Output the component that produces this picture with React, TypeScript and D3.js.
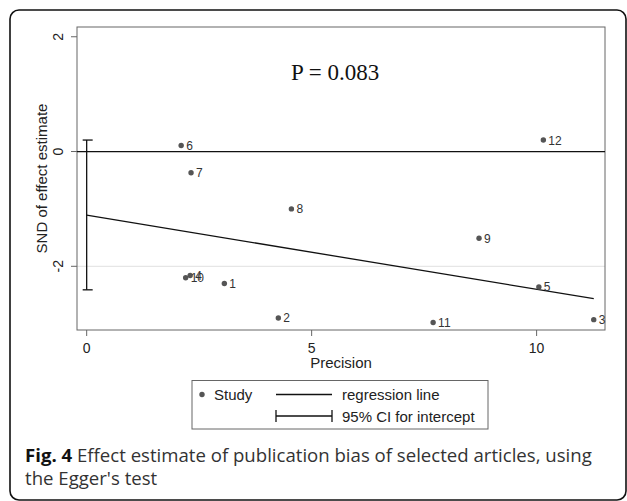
import React from 'react';
import * as d3 from 'd3';

// studies: precision (x) and standard normal deviate (y)
const studyIds = ['1', '2', '3', '4', '5', '6', '7', '8', '9', '10', '11', '12'];
const precision = [3.06, 4.26, 11.27, 2.3, 10.05, 2.1, 2.32, 4.55, 8.72, 2.2, 7.7, 10.15];
const snd = [-2.3, -2.9, -2.93, -2.16, -2.36, 0.105, -0.37, -1.0, -1.51, -2.2, -2.98, 0.2];

const intercept = -1.11;
const slope = -0.129;
const ciLow = -2.41;
const ciHigh = 0.2;

const xTicks = [0, 5, 10];
const yTicks = [-2, 0, 2];
const gridTicks = [-2];

const pText = 'P = 0.083';
const legendItems = ['Study', 'regression line', '95% CI for intercept'];
const captionBold = 'Fig. 4';
const captionLine1 = ' Effect estimate of publication bias of selected articles, using';
const captionLine2 = "the Egger's test";

const W = 627;
const H = 501;
const plot = { left: 77, right: 605, top: 27, bottom: 330 };

export default function App() {
  const x = d3.scaleLinear().domain([-0.215, 11.52]).range([plot.left, plot.right]);
  const y = d3.scaleLinear().domain([-3.11, 2.17]).range([plot.bottom, plot.top]);

  const xMax = d3.max(precision) as number;
  const regLine = d3.line<number>()
    .x(d => x(d))
    .y(d => y(intercept + slope * d));

  const sans = 'Arial, "Liberation Sans", sans-serif';
  const capFont = '"Open Sans", "Noto Sans", sans-serif';
  const axisColor = '#666';

  return (
    <svg width={W} height={H} style={{ position: 'absolute', left: 0, top: 0, background: '#fff' }}>
      {/* outer frame */}
      <rect x={10} y={10} width={616} height={490} rx={9} fill="none" stroke="#111" strokeWidth={1.6} />

      {/* grid */}
      {gridTicks.map(t => (
        <line key={t} x1={plot.left} x2={plot.right} y1={y(t)} y2={y(t)} stroke="#e6e6e6" strokeWidth={1.2} />
      ))}

      {/* plot region */}
      <rect x={plot.left} y={plot.top} width={plot.right - plot.left} height={plot.bottom - plot.top}
        fill="none" stroke={axisColor} strokeWidth={1} />

      {/* zero line */}
      <line x1={plot.left} x2={plot.right} y1={y(0)} y2={y(0)} stroke="#111" strokeWidth={1.2} />

      {/* y axis */}
      {yTicks.map(t => (
        <g key={t}>
          <line x1={plot.left - 6} x2={plot.left} y1={y(t)} y2={y(t)} stroke={axisColor} />
          <text transform={`translate(63,${y(t)}) rotate(-90)`} textAnchor="middle"
            fontFamily={sans} fontSize={14} fill="#222">{t}</text>
        </g>
      ))}
      <text transform={`translate(47,${(plot.top + plot.bottom) / 2}) rotate(-90)`} textAnchor="middle"
        fontFamily={sans} fontSize={15} fill="#222">SND of effect estimate</text>

      {/* x axis */}
      {xTicks.map(t => (
        <g key={t}>
          <line x1={x(t)} x2={x(t)} y1={plot.bottom} y2={plot.bottom + 6} stroke={axisColor} />
          <text x={x(t)} y={353} textAnchor="middle" fontFamily={sans} fontSize={14} fill="#222">{t}</text>
        </g>
      ))}
      <text x={(plot.left + plot.right) / 2} y={368} textAnchor="middle" fontFamily={sans} fontSize={15} fill="#222">
        Precision
      </text>

      {/* CI for intercept */}
      <g stroke="#111" strokeWidth={1.3}>
        <line x1={x(0)} x2={x(0)} y1={y(ciHigh)} y2={y(ciLow)} />
        <line x1={x(0) - 4} x2={x(0) + 6} y1={y(ciHigh)} y2={y(ciHigh)} />
        <line x1={x(0) - 4} x2={x(0) + 6} y1={y(ciLow)} y2={y(ciLow)} />
      </g>

      {/* regression line */}
      <path d={regLine([0, xMax]) || ''} fill="none" stroke="#111" strokeWidth={1.3} />

      {/* points */}
      {studyIds.map((id, i) => (
        <g key={id}>
          <circle cx={x(precision[i])} cy={y(snd[i])} r={2.7} fill="#555" />
          <text x={x(precision[i]) + 5} y={y(snd[i]) + 4.5} fontFamily={sans} fontSize={12} fill="#333">{id}</text>
        </g>
      ))}

      {/* P value */}
      <text x={291} y={79.5} fontFamily='"Liberation Serif", "Times New Roman", serif' fontSize={23} fill="#111">{pText}</text>

      {/* legend */}
      <rect x={192} y={380.5} width={296} height={48.5} fill="none" stroke={axisColor} />
      <circle cx={202} cy={394.5} r={2.7} fill="#555" />
      <text x={214} y={400} fontFamily={sans} fontSize={15} fill="#222">{legendItems[0]}</text>
      <line x1={276} x2={332} y1={394.5} y2={394.5} stroke="#111" strokeWidth={1.3} />
      <text x={342} y={400} fontFamily={sans} fontSize={15} fill="#222">{legendItems[1]}</text>
      <g stroke="#111" strokeWidth={1.3}>
        <line x1={276} x2={332} y1={416} y2={416} />
        <line x1={276} x2={276} y1={410} y2={422} />
        <line x1={332} x2={332} y1={410} y2={422} />
      </g>
      <text x={342} y={421.5} fontFamily={sans} fontSize={15} fill="#222">{legendItems[2]}</text>

      {/* caption */}
      <text x={25} y={462} fontFamily={capFont} fontSize={18.6} fill="#333">
        <tspan fontWeight="bold" fill="#111">{captionBold}</tspan>
        <tspan>{captionLine1}</tspan>
      </text>
      <text x={25} y={485} fontFamily={capFont} fontSize={18.6} fill="#333">{captionLine2}</text>
    </svg>
  );
}
